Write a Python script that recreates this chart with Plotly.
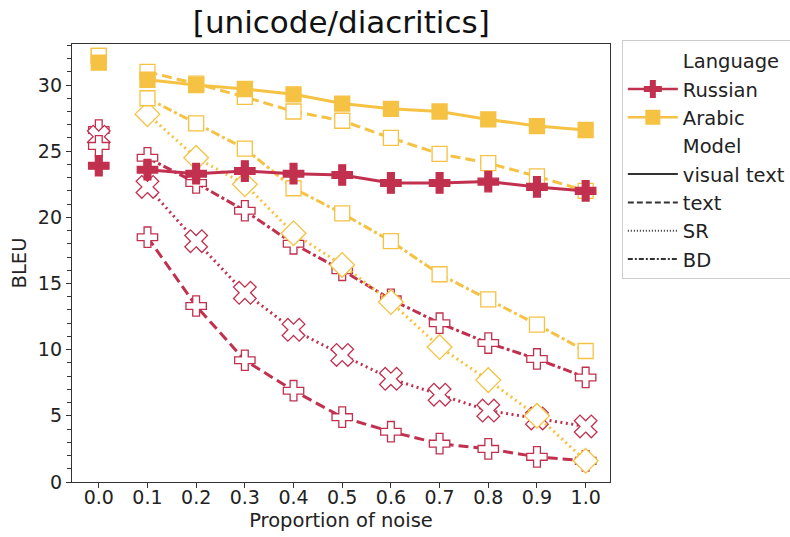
import plotly.graph_objects as go

# Noise proportions on the x axis
noise = [0.0, 0.1, 0.2, 0.3, 0.4, 0.5, 0.6, 0.7, 0.8, 0.9, 1.0]
tick_labels = ["0.0", "0.1", "0.2", "0.3", "0.4", "0.5", "0.6", "0.7", "0.8", "0.9", "1.0"]

languages = ["Russian", "Arabic"]
models = ["visual text", "text", "SR", "BD"]

# BLEU at zero noise (drawn as separate points)
ru_clean = {"visual text": 23.9, "text": 25.4, "SR": 26.1, "BD": 26.6}
ar_clean = {"visual text": 31.7, "text": 32.2, "BD": 32.2}

# BLEU for noise 0.1 .. 1.0
ru_visual = [23.6, 23.3, 23.5, 23.3, 23.2, 22.6, 22.6, 22.7, 22.3, 22.0]
ru_text = [18.5, 13.3, 9.2, 6.9, 4.9, 3.8, 2.9, 2.5, 1.9, 1.6]
ru_sr = [22.3, 18.2, 14.3, 11.5, 9.6, 7.8, 6.6, 5.4, 4.8, 4.2]
ru_bd = [24.5, 22.6, 20.5, 18.0, 16.0, 13.8, 12.0, 10.5, 9.3, 7.9]

ar_visual = [30.4, 30.0, 29.7, 29.3, 28.6, 28.2, 28.0, 27.4, 26.9, 26.6]
ar_text = [31.0, 30.1, 29.1, 28.0, 27.3, 26.0, 24.8, 24.1, 23.1, 22.0]
ar_sr = [27.8, 24.5, 22.5, 18.8, 16.4, 13.6, 10.2, 7.7, 5.0, 1.6]
ar_bd = [29.0, 27.1, 25.2, 22.2, 20.3, 18.2, 15.7, 13.8, 11.9, 9.9]

RED = "#c1304e"
YEL = "#f5c243"
DARK = "#333333"
FONT = "DejaVu Sans"
FS = 19

dash_for = {"visual text": "solid", "text": "10px,5px", "SR": "2px,3.5px", "BD": "9px,3px,3px,3px"}

series = [
    ("Russian", "text", ru_text, RED, "cross", False),
    ("Russian", "SR", ru_sr, RED, "x", False),
    ("Russian", "BD", ru_bd, RED, "cross", False),
    ("Arabic", "SR", ar_sr, YEL, "diamond", False),
    ("Arabic", "BD", ar_bd, YEL, "square", False),
    ("Arabic", "text", ar_text, YEL, "square", False),
    ("Russian", "visual text", ru_visual, RED, "cross", True),
    ("Arabic", "visual text", ar_visual, YEL, "square", True),
]

fig = go.Figure()

size_for = {"cross": 17, "x": 20, "square": 15, "diamond": 19}

for lang, model, vals, col, sym, filled in series:
    fill = col if filled else "white"
    fig.add_trace(go.Scatter(
        x=noise[1:], y=vals, mode="lines+markers", showlegend=False,
        line=dict(color=col, width=3, dash=dash_for[model]),
        marker=dict(symbol=sym, size=size_for[sym], color=fill,
                    line=dict(color=col, width=1.3)),
    ))

# zero-noise points
for model in ["BD", "SR", "text", "visual text"]:
    for lang, clean, col in [("Russian", ru_clean, RED), ("Arabic", ar_clean, YEL)]:
        if model not in clean:
            continue
        if lang == "Russian":
            sym = "x" if model == "SR" else "cross"
        else:
            sym = "diamond" if model == "SR" else "square"
        filled = model == "visual text"
        fig.add_trace(go.Scatter(
            x=[noise[0]], y=[clean[model]], mode="markers", showlegend=False,
            marker=dict(symbol=sym, size=size_for[sym],
                        color=col if filled else "white",
                        line=dict(color=col, width=1.3)),
        ))

# legend entries
def legend_entry(name, color, dash="solid", symbol=None, width=2.5):
    mode = "lines+markers" if symbol else "lines"
    fig.add_trace(go.Scatter(
        x=[None], y=[None], mode=mode, name=name, legendgroup=name,
        line=dict(color=color, width=width, dash=dash),
        marker=dict(symbol=symbol or "circle", size=15, color=color,
                    line=dict(width=0)),
    ))

legend_entry("Language", "rgba(0,0,0,0)")
legend_entry("Russian", RED, symbol="cross")
legend_entry("Arabic", YEL, symbol="square")
legend_entry("Model", "rgba(0,0,0,0)")
legend_entry("visual text", DARK, "solid", width=2)
legend_entry("text", DARK, "6px,3px", width=2)
legend_entry("SR", DARK, "1px,2px", width=2)
legend_entry("BD", DARK, "5px,2px,2px,2px", width=2)

axis_common = dict(
    showline=True, linecolor=DARK, linewidth=1.3, mirror=True,
    showgrid=False, zeroline=False, ticks="outside", ticklen=5,
    tickcolor=DARK, tickwidth=1.2, automargin=False,
    tickfont=dict(family=FONT, size=FS, color="#222222"),
)

fig.update_layout(
    width=790, height=537,
    margin=dict(l=72, r=180, t=44, b=55, autoexpand=False),
    paper_bgcolor="white", plot_bgcolor="white",
    font=dict(family=FONT, color="#222222"),
    title=dict(text="[unicode/diacritics]", x=0.432, xanchor="center",
               y=0.958, yanchor="middle",
               font=dict(family=FONT, size=31, color="#111111")),
    xaxis=dict(
        range=[-0.055, 1.05], tickvals=noise, ticktext=tick_labels,
        ticklabelstandoff=-7,
        title=dict(text="Proportion of noise", standoff=6,
                   font=dict(family=FONT, size=19.5)),
        **axis_common,
    ),
    yaxis=dict(
        range=[0, 33.1], tickvals=[0, 5, 10, 15, 20, 25, 30],
        minor=dict(dtick=1, ticks="outside", ticklen=3.5, tickcolor=DARK, tickwidth=1),
        title=dict(text="BLEU", standoff=6,
                   font=dict(family=FONT, size=19.5)),
        **axis_common,
    ),
    legend=dict(
        x=1.022, xanchor="left", y=1.008, yanchor="top",
        bordercolor="#cccccc", borderwidth=1, bgcolor="white",
        font=dict(family=FONT, size=19.5, color="#222222"),
        traceorder="grouped", tracegroupgap=0, itemwidth=50,
    ),
)

fig.write_html("out.html")
